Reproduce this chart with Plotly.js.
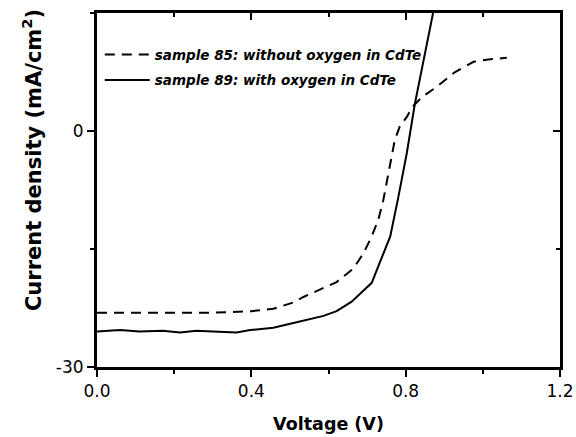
<!DOCTYPE html>
<html>
<head>
<meta charset="utf-8">
<script src="https://cdn.plot.ly/plotly-3.0.1.min.js"></script>
<style>html,body{margin:0;padding:0;background:#fff;}#chart{width:576px;height:437px;}</style>
</head>
<body>
<div id="chart"></div>
<script>
// Sample 85: without oxygen in CdTe (dashed)
const voltage85 = [0, 0.05, 0.10, 0.15, 0.20, 0.25, 0.30, 0.35, 0.40, 0.457, 0.509, 0.535, 0.578, 0.621, 0.664, 0.690, 0.712, 0.729, 0.742, 0.751, 0.760, 0.772, 0.785, 0.803, 0.818, 0.842, 0.880, 0.928, 0.976, 1.014, 1.062];
const current85 = [-23.1, -23.1, -23.1, -23.1, -23.1, -23.1, -23.1, -23.0, -22.9, -22.6, -21.8, -21.1, -20.2, -19.2, -17.5, -15.6, -13.4, -11.3, -8.8, -6.6, -4.1, -1.1, 0.6, 1.8, 3.1, 4.3, 5.6, 7.5, 8.8, 9.1, 9.3];
// Sample 89: with oxygen in CdTe (solid)
const voltage89 = [0, 0.06, 0.11, 0.17, 0.215, 0.258, 0.30, 0.362, 0.397, 0.457, 0.509, 0.544, 0.587, 0.621, 0.660, 0.712, 0.760, 0.781, 0.803, 0.824, 0.848, 0.871];
const current89 = [-25.5, -25.3, -25.5, -25.4, -25.6, -25.4, -25.5, -25.6, -25.3, -25.0, -24.4, -24.0, -23.5, -22.9, -21.7, -19.3, -13.4, -8.4, -2.8, 3.5, 9.5, 15];
const seriesNames = ["sample 85: without oxygen in CdTe", "sample 89: with oxygen in CdTe"];
const yTickVals = [-30, 0];
const yTickText = ["-30", "0"];

const FONT = "DejaVu Sans, Liberation Sans, Arial, sans-serif";

const traces = [
  {x: voltage85, y: current85, name: seriesNames[0], mode: "lines", legendgroup: "a",
   line: {color: "#000", width: 2, dash: "10px,7px"}},
  {x: voltage89, y: current89, name: seriesNames[1], mode: "lines", legendgroup: "b",
   xaxis: "x2", yaxis: "y2",
   line: {color: "#000", width: 2}}
];

const axBase = {showgrid: false, zeroline: false, showline: true, linecolor: "#000", linewidth: 3,
  ticks: "outside", tickcolor: "#000", tickwidth: 2, ticklen: 7};

const layout = {
  width: 576, height: 437,
  margin: {l: 97, r: 16, t: 13, b: 70, pad: 0},
  paper_bgcolor: "#fff", plot_bgcolor: "#fff",
  font: {family: FONT, color: "#000", size: 17},
  showlegend: true,
  legend: {x: 0.006, y: 0.926, xanchor: "left", yanchor: "top", bgcolor: "rgba(0,0,0,0)",
    borderwidth: 0, traceorder: "grouped", tracegroupgap: 5, itemwidth: 45,
    font: {family: FONT, size: 13.5, weight: "bold", style: "italic", color: "#000"}},
  xaxis: Object.assign({}, axBase, {range: [0, 1.2], tick0: 0, dtick: 0.4, tickformat: ".1f",
    tickfont: {family: FONT, size: 17},
    minor: {dtick: 0.2, ticks: "outside", ticklen: 4, tickwidth: 2, tickcolor: "#000", showgrid: false},
    title: {text: "Voltage (V)", standoff: 18, font: {family: FONT, size: 17.5, weight: "bold"}}}),
  yaxis: Object.assign({}, axBase, {range: [-30, 15], tickmode: "array", tickvals: yTickVals, ticktext: yTickText,
    tickfont: {family: FONT, size: 17},
    minor: {tickmode: "array", tickvals: [-15, 15], ticks: "outside", ticklen: 4, tickwidth: 2, tickcolor: "#000", showgrid: false}}),
  xaxis2: {overlaying: "x", side: "top", anchor: "y2", range: [0, 1.2], showgrid: false, zeroline: false,
    showline: true, linecolor: "#000", linewidth: 3, ticks: "inside", tickcolor: "#000", tickwidth: 2, ticklen: 7,
    tick0: 0, dtick: 0.4, showticklabels: false,
    minor: {dtick: 0.2, ticks: "inside", ticklen: 4, tickwidth: 2, tickcolor: "#000", showgrid: false}},
  yaxis2: {overlaying: "y", side: "right", anchor: "x2", range: [-30, 15], showgrid: false, zeroline: false,
    showline: true, linecolor: "#000", linewidth: 3, ticks: "inside", tickcolor: "#000", tickwidth: 2, ticklen: 7,
    tickmode: "array", tickvals: yTickVals, showticklabels: false,
    minor: {tickmode: "array", tickvals: [-15], ticks: "inside", ticklen: 4, tickwidth: 2, tickcolor: "#000", showgrid: false}},
  annotations: [{text: "Current density (mA/cm<sup>2</sup>)", xref: "paper", yref: "paper",
    x: -0.14, y: 0.585, xanchor: "center", yanchor: "middle", textangle: -90, showarrow: false,
    font: {family: FONT, size: 21, weight: "bold", color: "#000"}}]
};

Plotly.newPlot("chart", traces, layout, {displayModeBar: false, staticPlot: true});
</script>
</body>
</html>
